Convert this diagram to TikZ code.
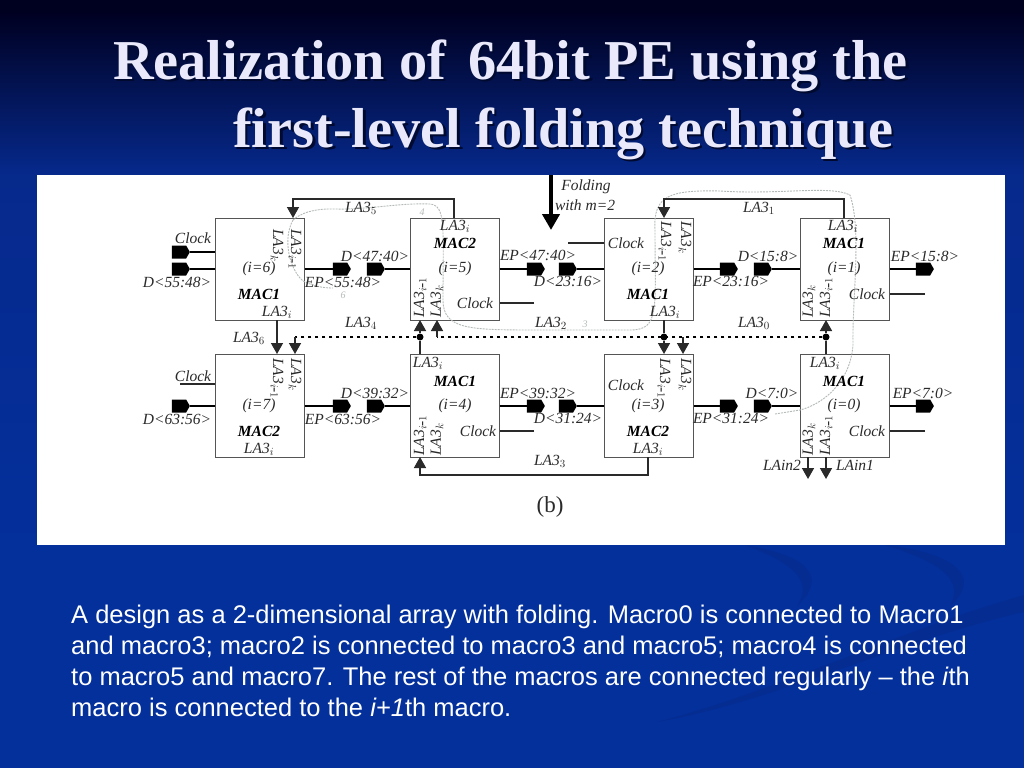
\documentclass[tikz,border=0pt]{standalone}
\usepackage{fontspec}
\setmainfont{Liberation Serif}
\newfontfamily\bodyfont{Liberation Sans}
\usetikzlibrary{arrows.meta,shapes.symbols,shapes.geometric}
\definecolor{slidetop}{HTML}{000020}
\definecolor{slidemid}{HTML}{06298C}
\definecolor{slidelow}{HTML}{04309C}
\definecolor{swoosh}{HTML}{052C90}
\definecolor{titlecol}{HTML}{E9E9FB}
\definecolor{titleshade}{HTML}{000A30}
\definecolor{pencil}{HTML}{B4BAB8}
\definecolor{inkc}{HTML}{2A2A2A}
\newcommand{\imo}{$_{i\mbox{-}1}$}
\newcommand{\shadowtext}[1]{\rlap{\hspace{2.5pt}\raisebox{-2.5pt}{\textcolor{titleshade}{#1}}}\textcolor{titlecol}{#1}}
\tikzset{
  mac/.style={draw=inkc!80,line width=1pt,minimum width=89pt,minimum height=102pt,inner sep=0pt},
  lab/.style={font=\fontsize{15.5}{17}\selectfont\itshape,text=inkc,inner sep=0pt},
  boldlab/.style={font=\fontsize{15.5}{17}\selectfont\itshape\bfseries,text=black,inner sep=0pt},
  vup/.style={lab,rotate=90,anchor=west},
  vdown/.style={lab,rotate=-90,anchor=west},
  pad/.style={signal,signal to=east,signal pointer angle=120,fill=black,inner sep=0pt,minimum width=18pt,minimum height=13pt},
  bus/.style={line width=2.2pt,black},
  thin wire/.style={line width=1.5pt,inkc},
  arr/.style={thin wire,-{Triangle[width=12pt,length=11pt]}},
  dotbus/.style={line width=1.8pt,black,dash pattern=on 3.5pt off 3.5pt},
  junction/.style={circle,fill=black,inner sep=0pt,minimum size=7pt},
  pencilline/.style={pencil,line width=0.9pt,dash pattern=on 2pt off 1pt},
  titletext/.style={font=\fontsize{56.3}{69}\selectfont\bfseries,inner sep=0pt,anchor=base west}
}
\begin{document}
\begin{tikzpicture}[x=1pt,y=-1pt]
\useasboundingbox (0,0) rectangle (1024,768);
\fill[slidelow] (0,0) rectangle (1024,768);
\shade[top color=slidetop,bottom color=slidemid] (0,10) rectangle (1024,175);
\fill[slidetop] (0,0) rectangle (1024,11);
\shade[top color=slidemid,bottom color=slidelow] (0,175) rectangle (1024,560);
% swooshes
\fill[swoosh] (745,545) .. controls (805,555) and (830,575) .. (797,606) .. controls (815,580) and (790,562) .. (745,545) -- cycle;
\fill[swoosh] (885,545) .. controls (950,552) and (985,575) .. (950,606) .. controls (965,580) and (940,562) .. (885,545) -- cycle;
\fill[swoosh] (657,722) .. controls (780,690) and (900,630) .. (1024,595) -- (1024,612) .. controls (900,640) and (780,700) .. (657,722) -- cycle;
% title
\node[titletext] (title1) at (113,79) {\shadowtext{Realization of\hspace{8pt} 64bit PE using the}};
\node[titletext] (title2) at (233,147) {\shadowtext{first-level folding technique}};
\fill[white] (37,175) rectangle (1005,545);
% macros
\node[mac] (m6) at (259.5,269) {};
\node[mac] (m5) at (454.5,269) {};
\node[mac] (m2) at (648.5,269) {};
\node[mac] (m1) at (844.5,269) {};
\node[mac,minimum height=103pt] (m7) at (259.5,405.5) {};
\node[mac,minimum height=103pt] (m4) at (454.5,405.5) {};
\node[mac,minimum height=103pt] (m3) at (648.5,405.5) {};
\node[mac,minimum height=103pt] (m0) at (844.5,405.5) {};
% hand marks
\draw[pencilline] (293,220) .. controls (310,205) and (340,210) .. (345,209) .. controls (380,208) and (400,203) .. (430,204) .. controls (446,206) and (443,225) .. (443,300) .. controls (443,330) and (470,330) .. (540,330) -- (630,330) .. controls (660,330) and (655,310) .. (655,230) .. controls (653,195) and (670,190) .. (720,191) .. controls (780,195) and (830,185) .. (850,195) .. controls (862,230) and (852,300) .. (853,345) .. controls (850,385) and (820,405) .. (800,410) -- (775,414);
\draw[pencilline] (293,220) .. controls (282,240) and (290,270) .. (303,281) .. controls (315,287) and (325,288) .. (333,288);
\node[pencil,font=\fontsize{10}{10}\selectfont\itshape,inner sep=0pt] (mark4) at (422,212) {4};
\node[pencil,font=\fontsize{10}{10}\selectfont\itshape,inner sep=0pt] (mark3) at (585,324) {3};
\node[pencil,font=\fontsize{10}{10}\selectfont\itshape,inner sep=0pt] (mark6) at (343,295) {6};
% folding arrow
\coordinate (foldtop) at (551,175);
\coordinate (foldend) at (551,230);
\draw[line width=4pt,black,-{Triangle[width=17pt,length=16pt]}] (foldtop) -- (foldend);
\node[lab] (fold1) at (586,187) {Folding};
\node[lab] (fold2) at (585,205) {with m=2};
% pads, top row
\node[pad] (p6c) at (179,252) {};
\node[pad] (p6d) at (179,269) {};
\node[pad] (p6o) at (340,269) {};
\node[pad] (p5i) at (374,269) {};
\node[pad] (p5o) at (534,269) {};
\node[pad] (p2i) at (566,269) {};
\node[pad] (p2o) at (727,269) {};
\node[pad] (p1i) at (761,269) {};
\node[pad] (p1o) at (923,269) {};
% pads, bottom row
\node[pad] (p7d) at (179,406) {};
\node[pad] (p7o) at (340,406) {};
\node[pad] (p4i) at (374,406) {};
\node[pad] (p4o) at (534,406) {};
\node[pad] (p3i) at (566,406) {};
\node[pad] (p3o) at (727,406) {};
\node[pad] (p0i) at (761,406) {};
\node[pad] (p0o) at (923,406) {};
% data wires
\draw[bus] (p6c) -- (p6c-|m6.west);
\draw[bus] (p6d) -- (m6.west);
\draw[bus] (m6.east) -- (p6o);
\draw[bus] (p5i) -- (m5.west);
\draw[bus] (m5.east) -- (p5o);
\draw[bus] (p2i) -- (m2.west);
\draw[bus] (m2.east) -- (p2o);
\draw[bus] (p1i) -- (m1.west);
\draw[bus] (m1.east) -- (p1o);
\draw[bus] (p7d) -- (p7d-|m7.west);
\draw[bus] (p7o-|m7.east) -- (p7o);
\draw[bus] (p4i) -- (p4i-|m4.west);
\draw[bus] (p4o-|m4.east) -- (p4o);
\draw[bus] (p3i) -- (p3i-|m3.west);
\draw[bus] (p3o-|m3.east) -- (p3o);
\draw[bus] (p0i) -- (p0i-|m0.west);
\draw[bus] (p0o-|m0.east) -- (p0o);
% clock stubs
\coordinate (c7) at (180,384);
\coordinate (c5) at (534,303);
\coordinate (c2) at (568,243);
\coordinate (c1) at (925,294);
\coordinate (c4) at (534,431);
\coordinate (c0) at (925,431);
\draw[thin wire] (c7) -- (c7-|m7.west);
\draw[thin wire] (c5) -- (c5-|m5.east);
\draw[thin wire] (c2) -- (c2-|m2.west);
\draw[thin wire] (c1) -- (c1-|m1.east);
\draw[thin wire] (c4) -- (c4-|m4.east);
\draw[thin wire] (c0) -- (c0-|m0.east);
% LA3 wires
\coordinate (t6) at (293,218);
\coordinate (t5) at (454,218);
\coordinate (t2) at (664,218);
\coordinate (t1) at (844,218);
\draw[arr] (t5) -- (454,199) -- (293,199) -- (t6);
\draw[arr] (t1) -- (844,199) -- (664,199) -- (t2);
\coordinate (b6) at (277,320);
\coordinate (t7) at (277,354);
\draw[arr] (b6) -- (t7);
\coordinate (b3) at (648,457);
\coordinate (b4) at (420,457);
\draw[arr] (b3) -- (648,475) -- (420,475) -- (b4);
% dashed buses
\node[junction] (j4) at (420,337) {};
\node[junction] (j2) at (664,337) {};
\node[junction] (j0) at (826,337) {};
\coordinate (d7) at (295,337);
\coordinate (d5) at (437,337);
\coordinate (d3) at (683,337);
\draw[dotbus] (j4) -- (d7);
\draw[dotbus] (j0) -- (d5);
\draw[arr] (d7) -- (295,354);
\draw[arr] (d5) -- (437,320);
\draw[arr] (d3) -- (683,354);
\draw[arr] (j4) -- (420,320);
\draw[thin wire] (j4) -- (420,354);
\draw[arr] (j2) -- (664,354);
\draw[thin wire] (j2) -- (664,320);
\draw[arr] (j0) -- (826,320);
\draw[thin wire] (j0) -- (826,354);
% LAin
\coordinate (in2) at (808,457);
\coordinate (in1) at (826,457);
\draw[arr] (in2) -- (808,479);
\draw[arr] (in1) -- (826,479);
% wire labels
\node[lab] (l5) at (361,208) {LA3$_5$};
\node[lab] (l1) at (759,208) {LA3$_1$};
\node[lab] (l4) at (361,323) {LA3$_4$};
\node[lab] (l2) at (551,323) {LA3$_2$};
\node[lab] (l0) at (754,323) {LA3$_0$};
\node[lab] (l6) at (249,338) {LA3$_6$};
\node[lab] (l3) at (550,461) {LA3$_3$};
\node[lab] (lin2) at (782,465) {LAin2};
\node[lab] (lin1) at (855,465) {LAin1};
% pin labels, top row
\node[lab] (tc6) at (193,238) {Clock};
\node[lab] (td6) at (177,282) {D<55:48>};
\node[lab] (te6) at (343,282) {EP<55:48>};
\node[lab] (td5) at (375,256) {D<47:40>};
\node[lab] (te5) at (538,255) {EP<47:40>};
\node[lab] (td2) at (568,281) {D<23:16>};
\node[lab] (te2) at (731,281) {EP<23:16>};
\node[lab] (td1) at (768,256) {D<15:8>};
\node[lab] (te1) at (925,256) {EP<15:8>};
% pin labels, bottom row
\node[lab] (tc7) at (193,376) {Clock};
\node[lab] (td7) at (177,419) {D<63:56>};
\node[lab] (te7) at (343,419) {EP<63:56>};
\node[lab] (td4) at (375,393) {D<39:32>};
\node[lab] (te4) at (538,393) {EP<39:32>};
\node[lab] (td3) at (568,418) {D<31:24>};
\node[lab] (te3) at (731,418) {EP<31:24>};
\node[lab] (td0) at (772,393) {D<7:0>};
\node[lab] (te0) at (923,393) {EP<7:0>};
% inside i=6
\node[boldlab] (n6) at (259,294) {MAC1};
\node[lab] (i6) at (259,269) {(i=6)};
\node[lab] (s6) at (277,312) {LA3$_i$};
\node[vdown] (k6) at (277,229) {LA3$_k$};
\node[vdown] (q6) at (295,229) {LA3\imo};
% inside i=5
\node[boldlab] (n5) at (455,243) {MAC2};
\node[lab] (i5) at (455,269) {(i=5)};
\node[lab] (s5) at (455,226) {LA3$_i$};
\node[lab] (k5c) at (475,303) {Clock};
\node[vup] (q5) at (420,318) {LA3\imo};
\node[vup] (k5) at (437,318) {LA3$_k$};
% inside i=2
\node[boldlab] (n2) at (648,294) {MAC1};
\node[lab] (i2) at (648,269) {(i=2)};
\node[lab] (s2) at (665,312) {LA3$_i$};
\node[lab] (k2c) at (626,243) {Clock};
\node[vdown] (q2) at (665,221) {LA3\imo};
\node[vdown] (k2) at (685,221) {LA3$_k$};
% inside i=1
\node[boldlab] (n1) at (844,243) {MAC1};
\node[lab] (i1) at (844,269) {(i=1)};
\node[lab] (s1) at (843,226) {LA3$_i$};
\node[lab] (k1c) at (867,294) {Clock};
\node[vup] (k1) at (809,318) {LA3$_k$};
\node[vup] (q1) at (826,318) {LA3\imo};
% inside i=7
\node[boldlab] (n7) at (259,431) {MAC2};
\node[lab] (i7) at (259,406) {(i=7)};
\node[lab] (s7) at (259,449) {LA3$_i$};
\node[vdown] (q7) at (277,358) {LA3\imo};
\node[vdown] (k7) at (295,358) {LA3$_k$};
% inside i=4
\node[boldlab] (n4) at (455,381) {MAC1};
\node[lab] (i4) at (455,406) {(i=4)};
\node[lab] (s4) at (428,363) {LA3$_i$};
\node[lab] (k4c) at (478,431) {Clock};
\node[vup] (q4) at (420,456) {LA3\imo};
\node[vup] (k4) at (437,456) {LA3$_k$};
% inside i=3
\node[boldlab] (n3) at (648,431) {MAC2};
\node[lab] (i3) at (648,406) {(i=3)};
\node[lab] (s3) at (648,449) {LA3$_i$};
\node[lab] (k3c) at (626,385) {Clock};
\node[vdown] (q3) at (664,358) {LA3\imo};
\node[vdown] (k3) at (685,358) {LA3$_k$};
% inside i=0
\node[boldlab] (n0) at (844,381) {MAC1};
\node[lab] (i0) at (844,406) {(i=0)};
\node[lab] (s0) at (825,363) {LA3$_i$};
\node[lab] (k0c) at (867,431) {Clock};
\node[vup] (k0) at (809,456) {LA3$_k$};
\node[vup] (q0) at (826,456) {LA3\imo};
\node[font=\fontsize{23}{23}\selectfont,inner sep=0pt,text=inkc] (cap) at (550,507) {(b)};
% caption text
\node[anchor=north west,align=left,text=white,inner sep=0pt,font=\bodyfont\fontsize{25.5}{31}\selectfont] (body) at (71,605)
{A design as a 2-dimensional array with folding. Macro0 is connected to Macro1\\
and macro3; macro2 is connected to macro3 and macro5; macro4 is connected\\
to macro5 and macro7. The rest of the macros are connected regularly – the \textit{i}th\\
macro is connected to the \textit{i+1}th macro.};
\end{tikzpicture}
\end{document}
